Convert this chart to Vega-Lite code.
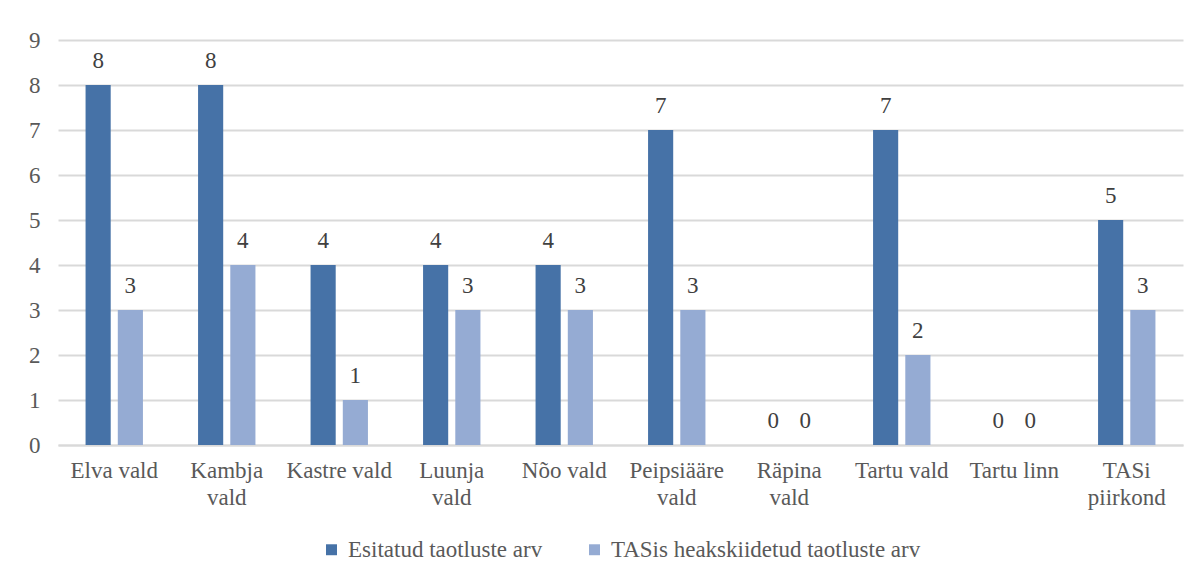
{
  "$schema": "https://vega.github.io/schema/vega-lite/v6.json",
  "width": 1200,
  "height": 578,
  "autosize": {"type": "fit", "contains": "padding"},
  "padding": {"left": 28, "top": 29, "right": 17, "bottom": 16},
  "background": "white",
  "config": {
    "font": "Liberation Serif",
    "view": {"stroke": null},
    "axis": {"labelColor": "#595959", "labelFontSize": 23, "labelFont": "Liberation Serif"},
    "legend": {
      "labelColor": "#595959",
      "labelFontSize": 23,
      "labelFont": "Liberation Serif",
      "labelLimit": 0,
      "layout": {"bottom": {"anchor": "middle"}}
    }
  },
  "data": {
    "values": [
      {"piirkond": "Elva vald", "seeria": "Esitatud taotluste arv", "arv": 8},
      {"piirkond": "Elva vald", "seeria": "TASis heakskiidetud taotluste arv", "arv": 3},
      {"piirkond": "Kambja vald", "seeria": "Esitatud taotluste arv", "arv": 8},
      {"piirkond": "Kambja vald", "seeria": "TASis heakskiidetud taotluste arv", "arv": 4},
      {"piirkond": "Kastre vald", "seeria": "Esitatud taotluste arv", "arv": 4},
      {"piirkond": "Kastre vald", "seeria": "TASis heakskiidetud taotluste arv", "arv": 1},
      {"piirkond": "Luunja vald", "seeria": "Esitatud taotluste arv", "arv": 4},
      {"piirkond": "Luunja vald", "seeria": "TASis heakskiidetud taotluste arv", "arv": 3},
      {"piirkond": "Nõo vald", "seeria": "Esitatud taotluste arv", "arv": 4},
      {"piirkond": "Nõo vald", "seeria": "TASis heakskiidetud taotluste arv", "arv": 3},
      {"piirkond": "Peipsiääre vald", "seeria": "Esitatud taotluste arv", "arv": 7},
      {"piirkond": "Peipsiääre vald", "seeria": "TASis heakskiidetud taotluste arv", "arv": 3},
      {"piirkond": "Räpina vald", "seeria": "Esitatud taotluste arv", "arv": 0},
      {"piirkond": "Räpina vald", "seeria": "TASis heakskiidetud taotluste arv", "arv": 0},
      {"piirkond": "Tartu vald", "seeria": "Esitatud taotluste arv", "arv": 7},
      {"piirkond": "Tartu vald", "seeria": "TASis heakskiidetud taotluste arv", "arv": 2},
      {"piirkond": "Tartu linn", "seeria": "Esitatud taotluste arv", "arv": 0},
      {"piirkond": "Tartu linn", "seeria": "TASis heakskiidetud taotluste arv", "arv": 0},
      {"piirkond": "TASi piirkond", "seeria": "Esitatud taotluste arv", "arv": 5},
      {"piirkond": "TASi piirkond", "seeria": "TASis heakskiidetud taotluste arv", "arv": 3}
    ]
  },
  "encoding": {
    "x": {
      "field": "piirkond",
      "type": "nominal",
      "sort": null,
      "title": null,
      "scale": {"paddingInner": 0.49, "paddingOuter": 0.245},
      "axis": {
        "labelAngle": 0,
        "ticks": false,
        "domainColor": "#d9d9d9",
        "domainWidth": 2,
        "labelPadding": 14,
        "labelLineHeight": 27,
        "labelExpr": "datum.value == 'Kambja vald' || datum.value == 'Luunja vald' || datum.value == 'Peipsiääre vald' || datum.value == 'Räpina vald' || datum.value == 'TASi piirkond' ? split(datum.value, ' ') : datum.value"
      }
    },
    "xOffset": {
      "field": "seeria",
      "type": "nominal",
      "scale": {"paddingInner": 0.22, "paddingOuter": 0}
    },
    "y": {
      "field": "arv",
      "type": "quantitative",
      "title": null,
      "scale": {"domain": [0, 9]},
      "axis": {
        "values": [0, 1, 2, 3, 4, 5, 6, 7, 8, 9],
        "domain": false,
        "ticks": false,
        "labelPadding": 18,
        "gridColor": "#d9d9d9",
        "gridWidth": 2
      }
    }
  },
  "layer": [
    {
      "mark": {"type": "bar"},
      "encoding": {
        "color": {
          "field": "seeria",
          "type": "nominal",
          "title": null,
          "scale": {
            "domain": ["Esitatud taotluste arv", "TASis heakskiidetud taotluste arv"],
            "range": ["#4672a7", "#95abd3"]
          },
          "legend": {
            "orient": "bottom",
            "direction": "horizontal",
            "symbolType": "square",
            "symbolSize": 120,
            "symbolStrokeWidth": 0,
            "columnPadding": 40,
            "labelOffset": 5,
            "offset": 29
          }
        }
      }
    },
    {
      "mark": {"type": "text", "baseline": "bottom", "dy": -12, "fontSize": 23, "color": "#404040", "font": "Liberation Serif"},
      "encoding": {
        "text": {"field": "arv", "type": "quantitative"}
      }
    }
  ]
}
